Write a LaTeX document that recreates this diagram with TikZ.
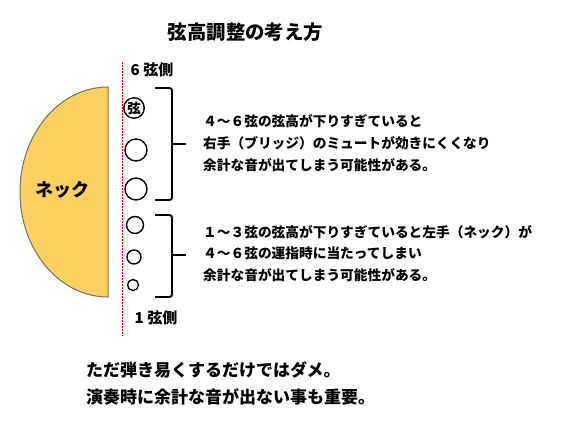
\documentclass[tikz,border=0pt]{standalone}
\usepackage{fontspec}
\setmainfont{Noto Sans CJK JP}
\definecolor{neckfill}{RGB}{250,208,96}
\definecolor{neckedge}{RGB}{125,112,80}
\begin{document}
\begin{tikzpicture}[x=1pt,y=-1pt,
  txt/.style={font=\bfseries\fontsize{13.7}{14}\selectfont, anchor=west, inner sep=0},
  strg/.style={draw, line width=1.4pt, circle, inner sep=0},
  bracket/.style={line width=1.8pt, rounded corners=2.5pt},
  bottomtxt/.style={font=\bfseries\fontsize{17}{18}\selectfont, anchor=west, inner sep=0}]
\useasboundingbox (0,0) rectangle (586,431);
\fill[white] (0,0) rectangle (586,431);
\node[font=\bfseries\fontsize{19.4}{20}\selectfont] (title) at (245.5,32) {弦高調整の考え方};
% reference line
\coordinate (ltop) at (122,62);
\coordinate (lbot) at (122,336);
\draw[red, dash pattern=on 1.5pt off 1.5pt, line width=0.6pt] (ltop) -- (lbot);
% neck
\draw[fill=neckfill, draw=neckedge, line width=1pt] (108,87) arc[start angle=270,end angle=90,x radius=88,y radius=105] -- cycle;
\node[font=\bfseries\fontsize{18}{18}\selectfont] (neck) at (62,190) {ネック};
% labels
\node[font=\bfseries\fontsize{15}{16}\selectfont] (six) at (152,70) {6 弦側};
\node[font=\bfseries\fontsize{15}{16}\selectfont] (one) at (156,318) {1 弦側};
% strings
\node[strg, minimum size=20.5pt, font=\bfseries\fontsize{13.5}{13.5}\selectfont] (s6) at (134,108) {弦};
\node[strg, minimum size=22pt] (s5) at (136,150) {};
\node[strg, minimum size=22pt] (s4) at (136,189) {};
\node[strg, minimum size=17pt] (s3) at (135,225) {};
\node[strg, minimum size=14pt] (s2) at (134,257) {};
\node[strg, minimum size=11pt] (s1) at (133,285) {};
% brackets
\draw[bracket] (155,88) -- (172,88) -- (172,144) -- (172,200) -- (155,200);
\draw[bracket] (172,144) -- (186,144);
\draw[bracket] (155,215) -- (172,215) -- (172,255) -- (172,297) -- (155,297);
\draw[bracket] (172,255) -- (186,255);
% text block 1
\node[txt] (a1) at (203,121) {４～６弦の弦高が下りすぎていると};
\node[txt] (a2) at (203,143) {右手（ブリッジ）のミュートが効きにくくなり};
\node[txt] (a3) at (203,165) {余計な音が出てしまう可能性がある。};
% text block 2
\node[txt] (b1) at (203,232) {１～３弦の弦高が下りすぎていると左手（ネック）が};
\node[txt] (b2) at (203,253) {４～６弦の運指時に当たってしまい};
\node[txt] (b3) at (203,275) {余計な音が出てしまう可能性がある。};
% bottom text
\node[bottomtxt] (c1) at (86,370) {ただ弾き易くするだけではダメ。};
\node[bottomtxt] (c2) at (86,397) {演奏時に余計な音が出ない事も重要。};
\end{tikzpicture}
\end{document}
